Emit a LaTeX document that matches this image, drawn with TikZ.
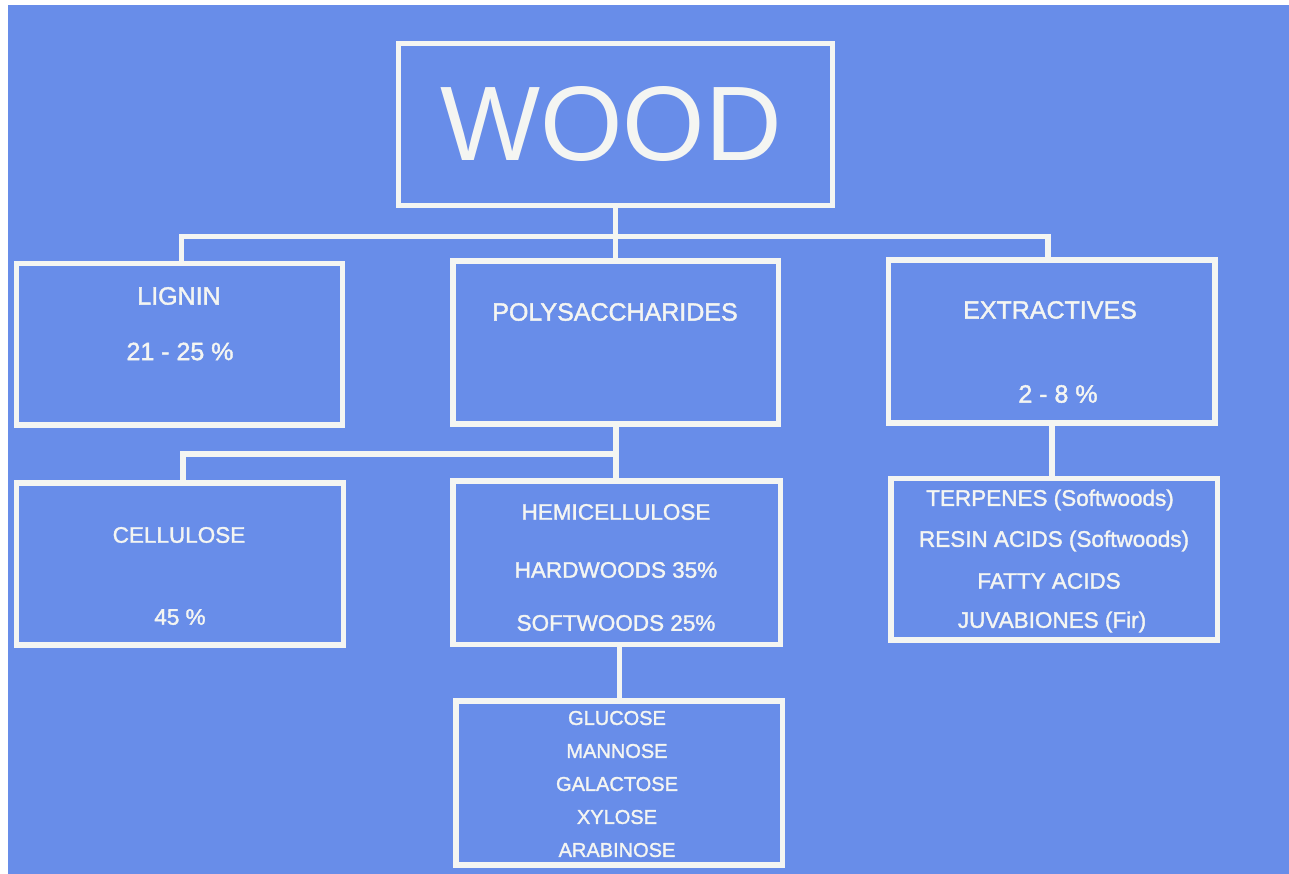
\documentclass[tikz,border=0pt]{standalone}
\usepackage{fontspec}
\setmainfont{Liberation Sans}
\newfontfamily\labelfont[FakeBold=1.6]{Liberation Sans}
\definecolor{slideblue}{RGB}{104,141,233}
\definecolor{chalk}{RGB}{244,245,242}
\tikzset{
  box/.style={draw=chalk, line width=5.5pt, rectangle, inner sep=0pt},
  link/.style={draw=chalk, line width=5.5pt},
  lbl/.style={text=chalk, inner sep=0pt, anchor=center, font=\labelfont\fontsize{25}{28}\selectfont},
  small/.style={text=chalk, inner sep=0pt, anchor=center, font=\labelfont\fontsize{20}{24}\selectfont},
  mid/.style={text=chalk, inner sep=0pt, anchor=center, font=\labelfont\fontsize{22.5}{26}\selectfont},
}
\begin{document}
\begin{tikzpicture}[x=1pt,y=-1pt]
\useasboundingbox (0,0) rectangle (1289,874);
\fill[white] (0,0) rectangle (1289,874);
\fill[slideblue] (8,5) rectangle (1289,874);

% boxes
\node[box, minimum width=434pt, minimum height=162pt] (wood) at (615.5,124.5) {};
\node[box, minimum width=326pt, minimum height=161.5pt] (lignin) at (179.5,344.25) {};
\node[box, minimum width=325.5pt, minimum height=163pt] (poly) at (615.75,342.5) {};
\node[box, minimum width=326.5pt, minimum height=163pt] (extr) at (1051.75,341.5) {};
\node[box, minimum width=327pt, minimum height=162pt] (cell) at (180,564) {};
\node[box, minimum width=327.5pt, minimum height=163.5pt] (hemi) at (616.75,562.75) {};
\node[box, minimum width=326.5pt, minimum height=161.5pt] (juv) at (1054.25,559.25) {};
\node[box, minimum width=326.5pt, minimum height=164pt] (sugar) at (619.25,783) {};

% connector joints
\coordinate (j1) at (616,236.5);
\coordinate (j2) at (615.75,454);

% connectors
\draw[link] (wood.south) -- (wood.south |- poly.north);
\draw[link] ([xshift=2pt]lignin.north) -- ([xshift=2pt]lignin.north |- j1) -- ([xshift=-3.75pt]extr.north |- j1) -- ([xshift=-3.75pt]extr.north);
\draw[link] (poly.south) -- (poly.south |- hemi.north);
\draw[link] ([xshift=3pt]cell.north) -- ([xshift=3pt]cell.north |- j2) -- (j2);
\draw[link] (sugar.north) -- (sugar.north |- hemi.south);
\draw[link] (extr.south) -- (extr.south |- juv.north);

% texts
\node[text=chalk, inner sep=0pt, font=\fontsize{106}{110}\selectfont] (twood) at (611,124) {WOOD};
\node[lbl] (tlignin) at (179,296) {LIGNIN};
\node[lbl] (tlignp) at (180,351.5) {21 - 25 \%};
\node[lbl] (tpoly) at (615,312) {POLYSACCHARIDES};
\node[lbl] (textr) at (1050,310) {EXTRACTIVES};
\node[lbl] (textrp) at (1058,394) {2 - 8 \%};
\node[mid] (tcell) at (179,535) {CELLULOSE};
\node[mid] (tcellp) at (180,617) {45 \%};
\node[mid] (themi) at (616,512) {HEMICELLULOSE};
\node[mid] (thard) at (616,570) {HARDWOODS 35\%};
\node[mid] (tsoft) at (616,623) {SOFTWOODS 25\%};
\node[mid] (tterp) at (1050,500) {TERPENES (Softwoods)};
\node[mid] (tresin) at (1054,541) {RESIN ACIDS (Softwoods)};
\node[mid] (tfatty) at (1049,581) {FATTY ACIDS};
\node[mid] (tjuv) at (1052,622) {JUVABIONES (Fir)};
\node[small] (tglu) at (617,718) {GLUCOSE};
\node[small] (tman) at (617,751) {MANNOSE};
\node[small] (tgal) at (617,784) {GALACTOSE};
\node[small] (txyl) at (617,817) {XYLOSE};
\node[small] (tara) at (617,850) {ARABINOSE};
\end{tikzpicture}
\end{document}
